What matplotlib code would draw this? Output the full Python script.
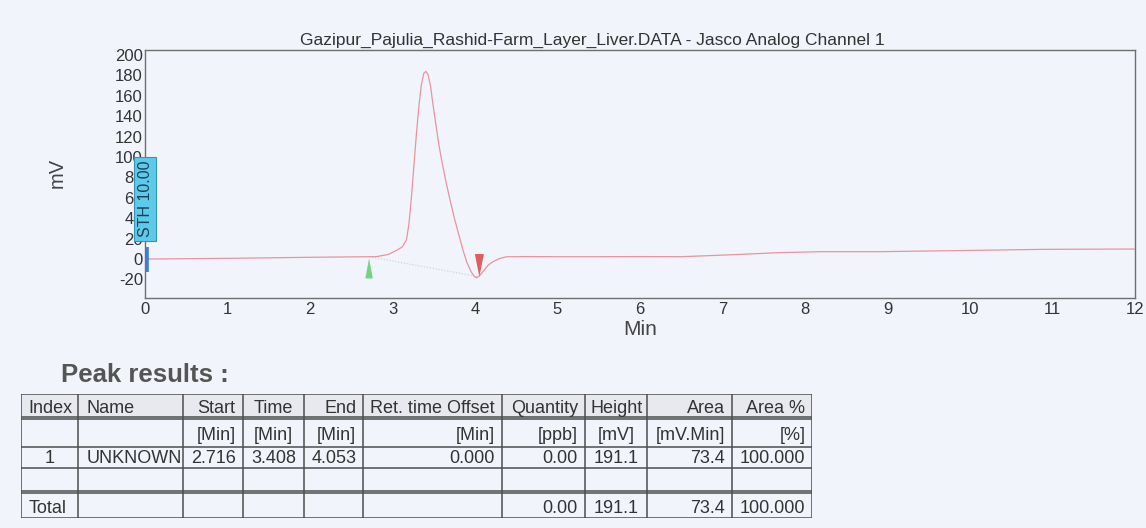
import numpy as np
import matplotlib
matplotlib.use("Agg")
import matplotlib.pyplot as plt

plt.rcParams['font.family'] = ['Liberation Sans', 'DejaVu Sans']
plt.rcParams['axes.unicode_minus'] = False

# ---------------- data ----------------
title = "Gazipur_Pajulia_Rashid-Farm_Layer_Liver.DATA - Jasco Analog Channel 1"

time_min = [0.0, 0.5, 1.0, 1.5, 2.0, 2.5, 2.8, 2.95, 3.05, 3.12, 3.17, 3.20, 3.23,
            3.26, 3.29, 3.32, 3.35, 3.38, 3.405, 3.43, 3.46, 3.49, 3.52, 3.56,
            3.60, 3.65, 3.70, 3.75, 3.80, 3.85, 3.90, 3.95, 3.99, 4.02, 4.06,
            4.10, 4.16, 4.22, 4.30, 4.38, 4.6, 5.0, 5.5, 6.0, 6.5, 6.8, 7.2,
            7.7, 8.2, 8.9, 9.7, 10.9, 12.0]
signal_mv = [0.0, 0.3, 0.7, 1.2, 1.7, 2.1, 2.3, 4.5, 8.5, 12.0, 19.0, 35.0, 61.0,
             92.0, 123.0, 150.0, 171.0, 182.0, 184.0, 181.0, 170.0, 152.0, 135.0, 113.0,
             95.0, 75.0, 57.0, 40.0, 25.0, 10.0, -3.0, -12.0, -17.0, -18.5, -16.0,
             -12.0, -6.0, -2.5, 0.5, 2.2, 2.4, 2.3, 2.3, 2.4, 2.3, 3.2, 4.5,
             6.3, 7.2, 7.2, 8.1, 9.5, 9.8]

sth_label = "STH 10.00"
x_ticks = list(range(0, 13))
y_ticks = list(range(-20, 201, 20))

peak_start = 2.716
peak_time = 3.408
peak_end = 4.053
baseline_start_mv = 2.3
baseline_end_mv = -17.5

col_headers = ["Index", "Name", "Start", "Time", "End", "Ret. time Offset",
               "Quantity", "Height", "Area", "Area %"]
col_units = ["", "", "[Min]", "[Min]", "[Min]", "[Min]", "[ppb]", "[mV]",
             "[mV.Min]", "[%]"]
peak_row = ["1", "UNKNOWN", "2.716", "3.408", "4.053", "0.000", "0.00",
            "191.1", "73.4", "100.000"]
empty_row = [""] * 10
total_row = ["Total", "", "", "", "", "", "0.00", "191.1", "73.4", "100.000"]

# ---------------- styles ----------------
BG = '#f1f4fb'
W, H = 1146, 528
fig = plt.figure(figsize=(W / 100, H / 100), dpi=100, facecolor=BG)

def fx(px):
    return px / W

def fy(py):
    return 1 - py / H

ax = fig.add_axes([fx(145), fy(298), fx(990), 248 / H])
ax.set_facecolor(BG)
ax.plot(time_min, signal_mv, color='#e8949d', lw=0.9, zorder=3)
# baseline under the peak
ax.plot([peak_start, peak_end], [baseline_start_mv, baseline_end_mv],
        color='#c9cdd8', lw=0.8, ls=':', zorder=2)
# start (green) / end (red) markers
ax.fill([peak_start - 0.045, peak_start + 0.045, peak_start], [-19, -19, 0.7],
        color='#74d483', zorder=4, lw=0)
ax.fill([peak_end - 0.055, peak_end + 0.055, peak_end], [4.9, 4.9, -17.3],
        color='#e25c5e', zorder=4, lw=0)
# blue marker at time zero
ax.vlines(0.03, -12.7, 11.8, color='#3c7fd2', lw=2.6, zorder=5, clip_on=False)

ax.set_xlim(0, 12)
ax.set_ylim(-38.2, 204.9)
ax.set_xticks(x_ticks)
ax.set_yticks(y_ticks)
ax.tick_params(axis='both', length=0, labelsize=12, labelcolor='#333333')
ax.tick_params(axis='y', pad=1.5)
ax.tick_params(axis='x', pad=3)
for s in ax.spines.values():
    s.set_color('#6f6f6f')
    s.set_linewidth(1.0)

ax.set_xlabel("Min", fontsize=15, color='#444444')
ax.xaxis.set_label_coords(0.5, -0.088)
ax.set_ylabel("mV", fontsize=14.5, color='#444444')
ax.yaxis.set_label_coords(-0.079, 0.504)

ax.set_title(title, fontsize=12.5, color='#333333', pad=4, x=0.4515)

# STH label
ax.text(0.0, 59, sth_label, rotation=90, fontsize=11.5, color='#1f3f55',
        ha='center', va='center', zorder=6, clip_on=False,
        bbox=dict(boxstyle='square,pad=0.25', fc='#5ccbe9', ec='#3a90b5', lw=0.8))

# ---------------- Peak results ----------------
fig.text(fx(60.7), fy(381.7), "Peak results :", fontsize=18.5, fontweight='bold',
         color='#555555', ha='left', va='baseline')

col_w = [57.6, 104.4, 60, 61.3, 59.3, 138.4, 83.3, 62.3, 85, 80]
edges = np.concatenate([[0], np.cumsum(col_w)])
tw = edges[-1]
th = 124.0
row_centers = [11.8, 39.0, 62.0, 85.5, 112.5]

tax = fig.add_axes([fx(20.7), fy(518.3), fx(tw), th / H])
tax.set_xlim(0, tw)
tax.set_ylim(th, 0)
tax.axis('off')
tax.axhspan(0, 22.4, color='#e7e9ef', zorder=0)

line_c = '#4d4d4d'
tax.hlines([0, 22.4, 25.0, 52.4, 73.4, 96.7, 99.0, th], 0, tw, color=line_c, lw=1.1)
tax.vlines(edges, 0, th, color=line_c, lw=1.1)

header_align = ['left', 'left', 'right', 'center', 'right', 'right', 'right',
                'center', 'right', 'right']
body_align = ['center', 'left', 'right', 'center', 'right', 'right', 'right',
              'center', 'right', 'right']
rows = [col_headers, col_units, peak_row, empty_row, total_row]

for r, row in enumerate(rows):
    for c, txt in enumerate(row):
        if not txt:
            continue
        if r == 0 or (c == 0 and r == 4):
            al = header_align[c]
        else:
            al = body_align[c]
        if al == 'left':
            x = edges[c] + 8
        elif al == 'right':
            x = edges[c + 1] - 7
        else:
            x = (edges[c] + edges[c + 1]) / 2
        tax.text(x, row_centers[r], txt, ha=al, va='center_baseline',
                 fontsize=13, color='#333333')

fig.savefig("out.png", dpi=100, facecolor=BG)
